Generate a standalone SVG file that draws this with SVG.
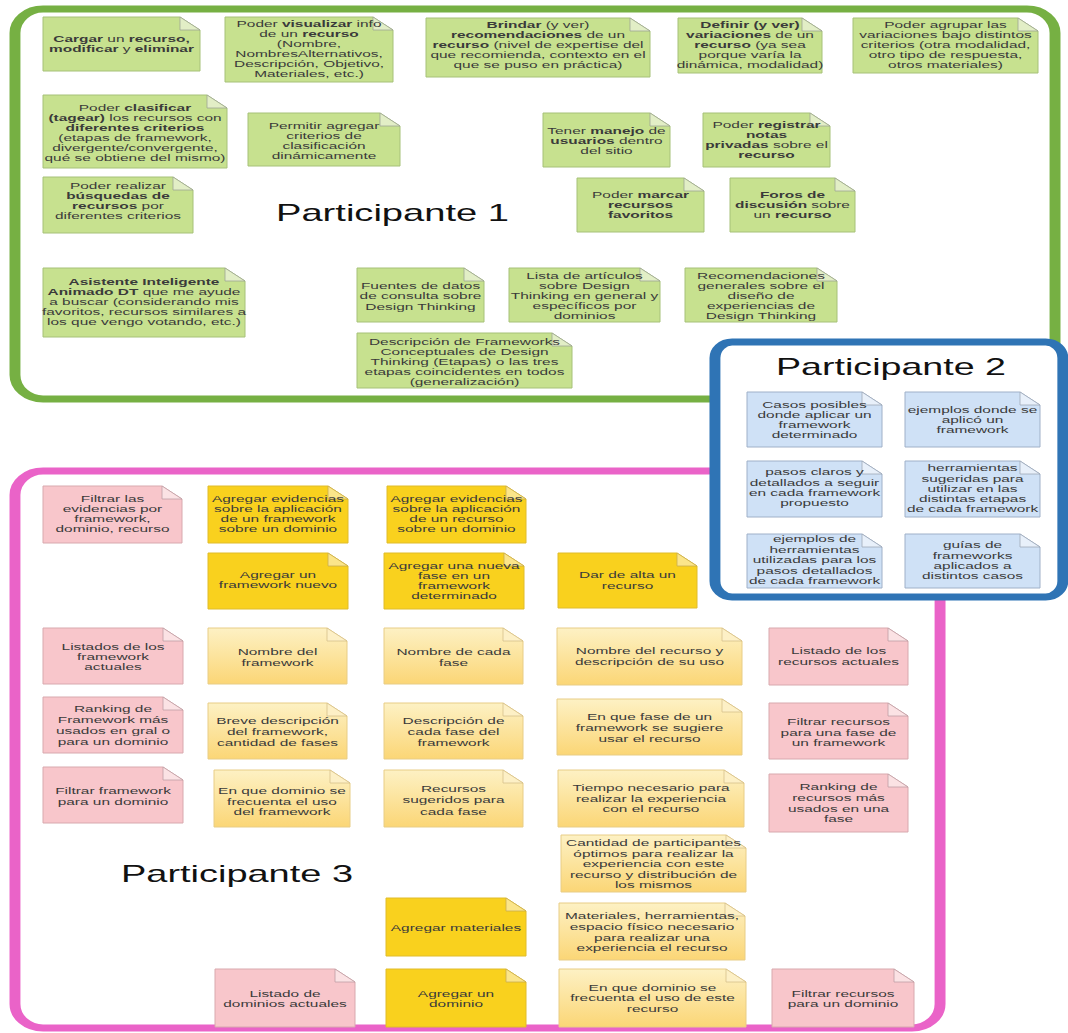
<svg xmlns="http://www.w3.org/2000/svg" width="1068" height="1033" viewBox="0 0 1068 1033">
<defs>
<linearGradient id="lyg" x1="0" y1="0" x2="0" y2="1"><stop offset="0" stop-color="#fdf1c4"/><stop offset="1" stop-color="#fbd676"/></linearGradient>
<style>
.b{stroke-width:1}
.f{stroke-width:.8}
.g .b{fill:#c7e18f;stroke:#a6c178}
.g .f{fill:#e2eec6;stroke:#9ea596}
.bl .b{fill:#cfe1f6;stroke:#9fb0c8}
.bl .f{fill:#e8f0fa;stroke:#9ea8b8}
.pk .b{fill:#f8c6cb;stroke:#d8a9ae}
.pk .f{fill:#fbe2e4;stroke:#bfa0a4}
.dy .b{fill:#f9d11e;stroke:#e0bc2a}
.dy .f{fill:#fbe58a;stroke:#c9ad50}
.ly .b{fill:url(#lyg);stroke:#e8cd86}
.ly .f{fill:#fdf0c6;stroke:#d6c08a}
.t{font-family:"Liberation Sans",Arial,sans-serif;font-size:9.3px;fill:#3a3a3a;text-anchor:middle}
.bd{font-weight:bold}
.title{font-family:"Liberation Sans",Arial,sans-serif;font-size:24px;fill:#111}
.box{fill:#fff}
</style>
</defs>
<rect width="1068" height="1033" fill="#fff"/>

<g id="participante1">
<rect class="box" transform="scale(1.56 1)" x="9.6" y="9" width="666.7" height="390" rx="18" ry="24" stroke="#76b043" stroke-width="7"/>
<text class="title" x="276" y="221" textLength="233" lengthAdjust="spacingAndGlyphs">Participante 1</text>
</g>

<g id="green-notes">
<g id="g1" class="g"><path class="b" d="M43,17h137l20,13v41h-157z"/><path class="f" d="M180,17v13h20z"/><text class="t" transform="translate(121.5 0) scale(1.66 1)"><tspan x="0" y="42.4"><tspan class="bd">Cargar</tspan> un <tspan class="bd">recurso,</tspan></tspan><tspan x="0" y="52.4"><tspan class="bd">modificar</tspan> y <tspan class="bd">eliminar</tspan></tspan></text></g>
<g id="g2" class="g"><path class="b" d="M225,17h148l20,13v52h-168z"/><path class="f" d="M373,17v13h20z"/><text class="t" transform="translate(309 0) scale(1.66 1)"><tspan x="0" y="27.4">Poder <tspan class="bd">visualizar</tspan> info</tspan><tspan x="0" y="37.4">de un <tspan class="bd">recurso</tspan></tspan><tspan x="0" y="47.4">(Nombre,</tspan><tspan x="0" y="57.4">NombresAlternativos,</tspan><tspan x="0" y="67.4">Descripción, Objetivo,</tspan><tspan x="0" y="77.4">Materiales, etc.)</tspan></text></g>
<g id="g3" class="g"><path class="b" d="M426,18h204l20,13v46h-224z"/><path class="f" d="M630,18v13h20z"/><text class="t" transform="translate(538 0) scale(1.66 1)"><tspan x="0" y="28.4"><tspan class="bd">Brindar</tspan> (y ver)</tspan><tspan x="0" y="38.4"><tspan class="bd">recomendaciones</tspan> de un</tspan><tspan x="0" y="48.4"><tspan class="bd">recurso</tspan> (nivel de expertise del</tspan><tspan x="0" y="58.4">que recomienda, contexto en el</tspan><tspan x="0" y="68.4">que se puso en práctica)</tspan></text></g>
<g id="g4" class="g"><path class="b" d="M678,18h124l20,13v42h-144z"/><path class="f" d="M802,18v13h20z"/><text class="t" transform="translate(750 0) scale(1.66 1)"><tspan x="0" y="27.9" class="bd">Definir (y ver)</tspan><tspan x="0" y="37.9"><tspan class="bd">variaciones</tspan> de un</tspan><tspan x="0" y="47.9"><tspan class="bd">recurso</tspan> (ya sea</tspan><tspan x="0" y="57.9">porque varía la</tspan><tspan x="0" y="67.9">dinámica, modalidad)</tspan></text></g>
<g id="g5" class="g"><path class="b" d="M853,18h165l20,13v42h-185z"/><path class="f" d="M1018,18v13h20z"/><text class="t" transform="translate(945.5 0) scale(1.66 1)"><tspan x="0" y="28.4">Poder agrupar las</tspan><tspan x="0" y="38.4">variaciones bajo distintos</tspan><tspan x="0" y="48.4">criterios (otra modalidad,</tspan><tspan x="0" y="58.4">otro tipo de respuesta,</tspan><tspan x="0" y="68.4">otros materiales)</tspan></text></g>
<g id="g6" class="g"><path class="b" d="M43,95h164l20,13v60h-184z"/><path class="f" d="M207,95v13h20z"/><text class="t" transform="translate(135 0) scale(1.66 1)"><tspan x="0" y="110.9">Poder <tspan class="bd">clasificar</tspan></tspan><tspan x="0" y="120.9"><tspan class="bd">(tagear)</tspan> los recursos con</tspan><tspan x="0" y="130.9" class="bd">diferentes criterios</tspan><tspan x="0" y="140.9">(etapas de framework,</tspan><tspan x="0" y="150.9">divergente/convergente,</tspan><tspan x="0" y="160.9">qué se obtiene del mismo)</tspan></text></g>
<g id="g7" class="g"><path class="b" d="M248,113h132l20,13v40h-152z"/><path class="f" d="M380,113v13h20z"/><text class="t" transform="translate(324 0) scale(1.66 1)"><tspan x="0" y="129.4">Permitir agregar</tspan><tspan x="0" y="139.4">criterios de</tspan><tspan x="0" y="149.4">clasificación</tspan><tspan x="0" y="159.4">dinámicamente</tspan></text></g>
<g id="g8" class="g"><path class="b" d="M543,113h107l20,13v41h-127z"/><path class="f" d="M650,113v13h20z"/><text class="t" transform="translate(606.5 0) scale(1.66 1)"><tspan x="0" y="134.4">Tener <tspan class="bd">manejo</tspan> de</tspan><tspan x="0" y="144.4"><tspan class="bd">usuarios</tspan> dentro</tspan><tspan x="0" y="154.4">del sitio</tspan></text></g>
<g id="g9" class="g"><path class="b" d="M703,113h107l20,13v41h-127z"/><path class="f" d="M810,113v13h20z"/><text class="t" transform="translate(766.5 0) scale(1.66 1)"><tspan x="0" y="128.4">Poder <tspan class="bd">registrar</tspan></tspan><tspan x="0" y="138.4" class="bd">notas</tspan><tspan x="0" y="148.4"><tspan class="bd">privadas</tspan> sobre el</tspan><tspan x="0" y="158.4" class="bd">recurso</tspan></text></g>
<g id="g10" class="g"><path class="b" d="M43,177h130l20,13v43h-150z"/><path class="f" d="M173,177v13h20z"/><text class="t" transform="translate(118 0) scale(1.66 1)"><tspan x="0" y="189.4">Poder realizar</tspan><tspan x="0" y="199.4" class="bd">búsquedas de</tspan><tspan x="0" y="209.4"><tspan class="bd">recursos</tspan> por</tspan><tspan x="0" y="219.4">diferentes criterios</tspan></text></g>
<g id="g11" class="g"><path class="b" d="M577,178h107l20,13v41h-127z"/><path class="f" d="M684,178v13h20z"/><text class="t" transform="translate(640.5 0) scale(1.66 1)"><tspan x="0" y="198.4">Poder <tspan class="bd">marcar</tspan></tspan><tspan x="0" y="208.4" class="bd">recursos</tspan><tspan x="0" y="218.4" class="bd">favoritos</tspan></text></g>
<g id="g12" class="g"><path class="b" d="M730,178h105l20,13v41h-125z"/><path class="f" d="M835,178v13h20z"/><text class="t" transform="translate(792.5 0) scale(1.66 1)"><tspan x="0" y="198.4" class="bd">Foros de</tspan><tspan x="0" y="208.4"><tspan class="bd">discusión</tspan> sobre</tspan><tspan x="0" y="218.4">un <tspan class="bd">recurso</tspan></tspan></text></g>
<g id="g13" class="g"><path class="b" d="M43,268h182l20,13v56h-202z"/><path class="f" d="M225,268v13h20z"/><text class="t" transform="translate(144 0) scale(1.66 1)"><tspan x="0" y="285.4" class="bd">Asistente Inteligente</tspan><tspan x="0" y="295.4"><tspan class="bd">Animado DT</tspan> que me ayude</tspan><tspan x="0" y="305.4">a buscar (considerando mis</tspan><tspan x="0" y="315.4">favoritos, recursos similares a</tspan><tspan x="0" y="325.4">los que vengo votando, etc.)</tspan></text></g>
<g id="g14" class="g"><path class="b" d="M357,268h107l20,13v41h-127z"/><path class="f" d="M464,268v13h20z"/><text class="t" transform="translate(420.5 0) scale(1.66 1)"><tspan x="0" y="288.9">Fuentes de datos</tspan><tspan x="0" y="299.4">de consulta sobre</tspan><tspan x="0" y="309.9">Design Thinking</tspan></text></g>
<g id="g15" class="g"><path class="b" d="M509,268h131l20,13v41h-151z"/><path class="f" d="M640,268v13h20z"/><text class="t" transform="translate(584.5 0) scale(1.66 1)"><tspan x="0" y="279.4">Lista de artículos</tspan><tspan x="0" y="289.4">sobre Design</tspan><tspan x="0" y="299.4">Thinking en general y</tspan><tspan x="0" y="309.4">específicos por</tspan><tspan x="0" y="319.4">dominios</tspan></text></g>
<g id="g16" class="g"><path class="b" d="M685,268h132l20,13v41h-152z"/><path class="f" d="M817,268v13h20z"/><text class="t" transform="translate(761 0) scale(1.66 1)"><tspan x="0" y="279.4">Recomendaciones</tspan><tspan x="0" y="289.4">generales sobre el</tspan><tspan x="0" y="299.4">diseño de</tspan><tspan x="0" y="309.4">experiencias de</tspan><tspan x="0" y="319.4">Design Thinking</tspan></text></g>
<g id="g17" class="g"><path class="b" d="M357,333h195l20,13v42h-215z"/><path class="f" d="M552,333v13h20z"/><text class="t" transform="translate(464.5 0) scale(1.66 1)"><tspan x="0" y="345.4">Descripción de Frameworks</tspan><tspan x="0" y="355.4">Conceptuales de Design</tspan><tspan x="0" y="365.4">Thinking (Etapas) o las tres</tspan><tspan x="0" y="375.4">etapas coincidentes en todos</tspan><tspan x="0" y="385.4">(generalización)</tspan></text></g>
</g>

<g id="participante3">
<rect class="box" transform="scale(1.56 1)" x="9.6" y="471" width="593" height="557" rx="18" ry="24" stroke="#ea63c8" stroke-width="7"/>
<text class="title" x="121" y="882" textLength="232" lengthAdjust="spacingAndGlyphs">Participante 3</text>
</g>

<g id="pink-notes">
<g id="p1" class="pk"><path class="b" d="M43,486h119l20,13v44h-139z"/><path class="f" d="M162,486v13h20z"/><text class="t" transform="translate(112.5 0) scale(1.66 1)"><tspan x="0" y="502.4">Filtrar las</tspan><tspan x="0" y="512.4">evidencias por</tspan><tspan x="0" y="522.4">framework,</tspan><tspan x="0" y="532.4">dominio, recurso</tspan></text></g>
<g id="y1" class="dy"><path class="b" d="M208,486h120l20,13v44h-140z"/><path class="f" d="M328,486v13h20z"/><text class="t" transform="translate(278 0) scale(1.66 1)"><tspan x="0" y="502.4">Agregar evidencias</tspan><tspan x="0" y="512.4">sobre la aplicación</tspan><tspan x="0" y="522.4">de un framework</tspan><tspan x="0" y="532.4">sobre un dominio</tspan></text></g>
<g id="y2" class="dy"><path class="b" d="M387,486h119l20,13v44h-139z"/><path class="f" d="M506,486v13h20z"/><text class="t" transform="translate(456.5 0) scale(1.66 1)"><tspan x="0" y="502.4">Agregar evidencias</tspan><tspan x="0" y="512.4">sobre la aplicación</tspan><tspan x="0" y="522.4">de un recurso</tspan><tspan x="0" y="532.4">sobre un dominio</tspan></text></g>
<g id="y3" class="dy"><path class="b" d="M208,553h120l20,13v43h-140z"/><path class="f" d="M328,553v13h20z"/><text class="t" transform="translate(278 0) scale(1.66 1)"><tspan x="0" y="578.4">Agregar un</tspan><tspan x="0" y="588.4">framework nuevo</tspan></text></g>
<g id="y4" class="dy"><path class="b" d="M384,553h120l20,13v43h-140z"/><path class="f" d="M504,553v13h20z"/><text class="t" transform="translate(454 0) scale(1.66 1)"><tspan x="0" y="569.4">Agregar una nueva</tspan><tspan x="0" y="579.4">fase en un</tspan><tspan x="0" y="589.4">framework</tspan><tspan x="0" y="599.4">determinado</tspan></text></g>
<g id="y5" class="dy"><path class="b" d="M558,553h119l20,13v42h-139z"/><path class="f" d="M677,553v13h20z"/><text class="t" transform="translate(627.5 0) scale(1.66 1)"><tspan x="0" y="578.4">Dar de alta un</tspan><tspan x="0" y="589.4">recurso</tspan></text></g>

<g id="r3a" class="pk"><path class="b" d="M43,628h120l20,13v43h-140z"/><path class="f" d="M163,628v13h20z"/><text class="t" transform="translate(113 0) scale(1.66 1)"><tspan x="0" y="650.4">Listados de los</tspan><tspan x="0" y="660.4">framework</tspan><tspan x="0" y="670.4">actuales</tspan></text></g>
<g id="r3b" class="ly"><path class="b" d="M208,628h119l20,13v43h-139z"/><path class="f" d="M327,628v13h20z"/><text class="t" transform="translate(277.5 0) scale(1.66 1)"><tspan x="0" y="655.2">Nombre del</tspan><tspan x="0" y="665.7">framework</tspan></text></g>
<g id="r3c" class="ly"><path class="b" d="M384,628h119l20,13v43h-139z"/><path class="f" d="M503,628v13h20z"/><text class="t" transform="translate(453.5 0) scale(1.66 1)"><tspan x="0" y="655.2">Nombre de cada</tspan><tspan x="0" y="665.7">fase</tspan></text></g>
<g id="r3d" class="ly"><path class="b" d="M557,628h165l20,13v44h-185z"/><path class="f" d="M722,628v13h20z"/><text class="t" transform="translate(649.5 0) scale(1.66 1)"><tspan x="0" y="653.9">Nombre del recurso y</tspan><tspan x="0" y="664.9">descripción de su uso</tspan></text></g>
<g id="r3e" class="pk"><path class="b" d="M769,628h119l20,13v44h-139z"/><path class="f" d="M888,628v13h20z"/><text class="t" transform="translate(838.5 0) scale(1.66 1)"><tspan x="0" y="653.9">Listado de los</tspan><tspan x="0" y="664.9">recursos actuales</tspan></text></g>

<g id="r4a" class="pk"><path class="b" d="M43,697h120l20,13v43h-140z"/><path class="f" d="M163,697v13h20z"/><text class="t" transform="translate(113 0) scale(1.66 1)"><tspan x="0" y="712.2">Ranking de</tspan><tspan x="0" y="723">Framework más</tspan><tspan x="0" y="733.8">usados en gral o</tspan><tspan x="0" y="744.6">para un dominio</tspan></text></g>
<g id="r4b" class="ly"><path class="b" d="M208,703h119l20,13v43h-139z"/><path class="f" d="M327,703v13h20z"/><text class="t" transform="translate(277.5 0) scale(1.66 1)"><tspan x="0" y="723.6">Breve descripción</tspan><tspan x="0" y="734.9">del framework,</tspan><tspan x="0" y="746.2">cantidad de fases</tspan></text></g>
<g id="r4c" class="ly"><path class="b" d="M384,703h119l20,13v43h-139z"/><path class="f" d="M503,703v13h20z"/><text class="t" transform="translate(453.5 0) scale(1.66 1)"><tspan x="0" y="723.6">Descripción de</tspan><tspan x="0" y="734.9">cada fase del</tspan><tspan x="0" y="746.2">framework</tspan></text></g>
<g id="r4d" class="ly"><path class="b" d="M557,699h165l20,13v43h-185z"/><path class="f" d="M722,699v13h20z"/><text class="t" transform="translate(649.5 0) scale(1.66 1)"><tspan x="0" y="720.4">En que fase de un</tspan><tspan x="0" y="731.4">framework se sugiere</tspan><tspan x="0" y="742.4">usar el recurso</tspan></text></g>
<g id="r4e" class="pk"><path class="b" d="M769,703h119l20,13v43h-139z"/><path class="f" d="M888,703v13h20z"/><text class="t" transform="translate(838.5 0) scale(1.66 1)"><tspan x="0" y="725.4">Filtrar recursos</tspan><tspan x="0" y="735.9">para una fase de</tspan><tspan x="0" y="746.4">un framework</tspan></text></g>

<g id="r5a" class="pk"><path class="b" d="M43,767h120l20,13v43h-140z"/><path class="f" d="M163,767v13h20z"/><text class="t" transform="translate(113 0) scale(1.66 1)"><tspan x="0" y="794.4">Filtrar framework</tspan><tspan x="0" y="805.4">para un dominio</tspan></text></g>
<g id="r5b" class="ly"><path class="b" d="M214,770h116l20,13v44h-136z"/><path class="f" d="M330,770v13h20z"/><text class="t" transform="translate(282 0) scale(1.66 1)"><tspan x="0" y="794.4">En que dominio se</tspan><tspan x="0" y="804.9">frecuenta el uso</tspan><tspan x="0" y="815.4">del framework</tspan></text></g>
<g id="r5c" class="ly"><path class="b" d="M384,770h119l20,13v44h-139z"/><path class="f" d="M503,770v13h20z"/><text class="t" transform="translate(453.5 0) scale(1.66 1)"><tspan x="0" y="791.9">Recursos</tspan><tspan x="0" y="803.4">sugeridos para</tspan><tspan x="0" y="814.9">cada fase</tspan></text></g>
<g id="r5d" class="ly"><path class="b" d="M558,770h166l20,13v44h-186z"/><path class="f" d="M724,770v13h20z"/><text class="t" transform="translate(651 0) scale(1.66 1)"><tspan x="0" y="791.4">Tiempo necesario para</tspan><tspan x="0" y="801.9">realizar la experiencia</tspan><tspan x="0" y="812.4">con el recurso</tspan></text></g>
<g id="r5e" class="pk"><path class="b" d="M769,774h119l20,13v45h-139z"/><path class="f" d="M888,774v13h20z"/><text class="t" transform="translate(838.5 0) scale(1.66 1)"><tspan x="0" y="790.4">Ranking de</tspan><tspan x="0" y="801.1">recursos más</tspan><tspan x="0" y="811.8">usados en una</tspan><tspan x="0" y="822.5">fase</tspan></text></g>

<g id="r6" class="ly"><path class="b" d="M561,835h165l20,13v44h-185z"/><path class="f" d="M726,835v13h20z"/><text class="t" transform="translate(653.5 0) scale(1.66 1)"><tspan x="0" y="846.4">Cantidad de participantes</tspan><tspan x="0" y="856.9">óptimos para realizar la</tspan><tspan x="0" y="867.4">experiencia con este</tspan><tspan x="0" y="877.9">recurso y distribución de</tspan><tspan x="0" y="888.4">los mismos</tspan></text></g>

<g id="r7a" class="dy"><path class="b" d="M386,898h120l20,13v45h-140z"/><path class="f" d="M506,898v13h20z"/><text class="t" transform="translate(456 0) scale(1.66 1)"><tspan x="0" y="931.4">Agregar materiales</tspan></text></g>
<g id="r7b" class="ly"><path class="b" d="M559,903h166l20,13v44h-186z"/><path class="f" d="M725,903v13h20z"/><text class="t" transform="translate(652 0) scale(1.66 1)"><tspan x="0" y="919.4">Materiales, herramientas,</tspan><tspan x="0" y="930.1">espacio físico necesario</tspan><tspan x="0" y="940.8">para realizar una</tspan><tspan x="0" y="951.5">experiencia el recurso</tspan></text></g>

<g id="r8a" class="pk"><path class="b" d="M215,969h120l20,13v45h-140z"/><path class="f" d="M335,969v13h20z"/><text class="t" transform="translate(285 0) scale(1.66 1)"><tspan x="0" y="997.4">Listado de</tspan><tspan x="0" y="1007.4">dominios actuales</tspan></text></g>
<g id="r8b" class="dy"><path class="b" d="M386,969h120l20,13v45h-140z"/><path class="f" d="M506,969v13h20z"/><text class="t" transform="translate(456 0) scale(1.66 1)"><tspan x="0" y="997.4">Agregar un</tspan><tspan x="0" y="1007.4">dominio</tspan></text></g>
<g id="r8c" class="ly"><path class="b" d="M559,969h167l20,13v45h-187z"/><path class="f" d="M726,969v13h20z"/><text class="t" transform="translate(652.5 0) scale(1.66 1)"><tspan x="0" y="990.9">En que dominio se</tspan><tspan x="0" y="1001.4">frecuenta el uso de este</tspan><tspan x="0" y="1011.9">recurso</tspan></text></g>
<g id="r8d" class="pk"><path class="b" d="M772,969h122l20,13v45h-142z"/><path class="f" d="M894,969v13h20z"/><text class="t" transform="translate(843 0) scale(1.66 1)"><tspan x="0" y="997.4">Filtrar recursos</tspan><tspan x="0" y="1007.4">para un dominio</tspan></text></g>
</g>

<g id="participante2">
<rect class="box" transform="scale(1.56 1)" x="458.3" y="342" width="223" height="255" rx="11" ry="16" stroke="#2f74b5" stroke-width="7"/>
<text class="title" x="776" y="375" textLength="230" lengthAdjust="spacingAndGlyphs">Participante 2</text>
</g>

<g id="blue-notes">
<g id="b1" class="bl"><path class="b" d="M747,392h115l20,13v42h-135z"/><path class="f" d="M862,392v13h20z"/><text class="t" transform="translate(814.5 0) scale(1.66 1)"><tspan x="0" y="407.9">Casos posibles</tspan><tspan x="0" y="417.9">donde aplicar un</tspan><tspan x="0" y="427.9">framework</tspan><tspan x="0" y="437.9">determinado</tspan></text></g>
<g id="b2" class="bl"><path class="b" d="M905,392h115l20,13v42h-135z"/><path class="f" d="M1020,392v13h20z"/><text class="t" transform="translate(972.5 0) scale(1.66 1)"><tspan x="0" y="413.4">ejemplos donde se</tspan><tspan x="0" y="423.4">aplicó un</tspan><tspan x="0" y="433.4">framework</tspan></text></g>
<g id="b3" class="bl"><path class="b" d="M747,461h115l20,13v43h-135z"/><path class="f" d="M862,461v13h20z"/><text class="t" transform="translate(814.5 0) scale(1.66 1)"><tspan x="0" y="475.5">pasos claros y</tspan><tspan x="0" y="485.8">detallados a seguir</tspan><tspan x="0" y="496.1">en cada framework</tspan><tspan x="0" y="506.4">propuesto</tspan></text></g>
<g id="b4" class="bl"><path class="b" d="M905,461h115l20,13v43h-135z"/><path class="f" d="M1020,461v13h20z"/><text class="t" transform="translate(972.5 0) scale(1.66 1)"><tspan x="0" y="471.5">herramientas</tspan><tspan x="0" y="481.7">sugeridas para</tspan><tspan x="0" y="491.9">utilizar en las</tspan><tspan x="0" y="502.1">distintas etapas</tspan><tspan x="0" y="512.3">de cada framework</tspan></text></g>
<g id="b5" class="bl"><path class="b" d="M747,534h115l20,13v41h-135z"/><path class="f" d="M862,534v13h20z"/><text class="t" transform="translate(814.5 0) scale(1.66 1)"><tspan x="0" y="542.4">ejemplos de</tspan><tspan x="0" y="552.9">herramientas</tspan><tspan x="0" y="563.4">utilizadas para los</tspan><tspan x="0" y="573.9">pasos detallados</tspan><tspan x="0" y="584.4">de cada framework</tspan></text></g>
<g id="b6" class="bl"><path class="b" d="M905,534h115l20,13v41h-135z"/><path class="f" d="M1020,534v13h20z"/><text class="t" transform="translate(972.5 0) scale(1.66 1)"><tspan x="0" y="548.4">guías de</tspan><tspan x="0" y="558.8">frameworks</tspan><tspan x="0" y="569.1">aplicados a</tspan><tspan x="0" y="579.4">distintos casos</tspan></text></g>
</g>
<g id="connectors"/>
</svg>
